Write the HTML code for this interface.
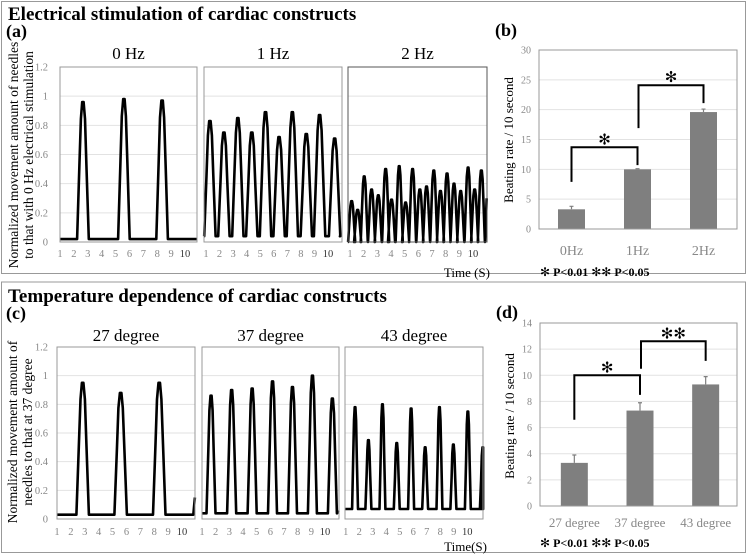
<!DOCTYPE html>
<html><head><meta charset="utf-8"><style>
html,body{margin:0;padding:0;background:#fff}
svg{display:block}
svg text{font-family:"Liberation Serif",serif}
</style></head><body>
<svg id="fig" width="747" height="554" viewBox="0 0 747 554">
<rect x="1.5" y="1.5" width="744" height="272" fill="none" stroke="#999"/>
<rect x="1.5" y="282" width="744" height="270.5" fill="none" stroke="#999"/>
<text x="8" y="20" font-size="19" font-weight="bold">Electrical stimulation  of cardiac constructs</text>
<text x="6" y="37" font-size="18" font-weight="bold">(a)</text>
<text x="495" y="36" font-size="18" font-weight="bold">(b)</text>
<text x="8" y="302" font-size="19" font-weight="bold">Temperature  dependence  of cardiac constructs</text>
<text x="6" y="319" font-size="18" font-weight="bold">(c)</text>
<text x="496" y="318" font-size="18" font-weight="bold">(d)</text>
<text transform="translate(18,155) rotate(-90)" text-anchor="middle" font-size="13.5">Normalized movement amount of needles</text>
<text transform="translate(33,155) rotate(-90)" text-anchor="middle" font-size="13.5">to that with 0 Hz electrical stimulation</text>
<text transform="translate(17,432) rotate(-90)" text-anchor="middle" font-size="13.5">Normalized movement amount of</text>
<text transform="translate(32,432) rotate(-90)" text-anchor="middle" font-size="13.5">needles to that at 37 degree</text>
<text x="490" y="277" text-anchor="end" font-size="13">Time (S)</text>
<text x="487" y="551" text-anchor="end" font-size="13">Time(S)</text>
<text transform="translate(513,140) rotate(-90)" text-anchor="middle" font-size="13">Beating rate / 10 second</text>
<text transform="translate(514,416) rotate(-90)" text-anchor="middle" font-size="13">Beating rate / 10 second</text>
<text x="540" y="276" font-size="12" font-weight="bold"><tspan font-size="12" font-weight="normal">✻</tspan> P&lt;0.01   <tspan font-size="12" font-weight="normal">✻✻</tspan> P&lt;0.05</text>
<text x="540" y="547" font-size="12" font-weight="bold"><tspan font-size="12" font-weight="normal">✻</tspan> P&lt;0.01   <tspan font-size="12" font-weight="normal">✻✻</tspan> P&lt;0.05</text>
</svg>
<script>
// ---- trace data (peak times in s, peak heights normalized) ----
const a1Times=[2.65,5.6,8.35];
const a1Heights=[0.96,0.98,0.97];
const a2Times=[1.29,2.32,3.35,4.38,5.39,6.39,7.37,8.4,9.38,10.49];
const a2Heights=[0.83,0.75,0.85,0.75,0.89,0.72,0.89,0.74,0.87,0.71];
const a3Times=[1.12,1.56,2.04,2.58,3.07,3.61,4.04,4.6,5.07,5.58,6.11,6.6,7.13,7.62,8.1,8.61,9.1,9.64,10.12,10.61];
const a3Heights=[0.28,0.22,0.45,0.36,0.32,0.5,0.29,0.52,0.27,0.5,0.36,0.38,0.49,0.35,0.47,0.4,0.35,0.51,0.36,0.49];
const c1Times=[2.85,5.58,8.36];
const c1Heights=[0.95,0.88,0.95];
const c2Times=[1.66,3.17,4.67,6.16,7.62,9.08,10.54];
const c2Heights=[0.86,0.9,0.91,0.96,0.92,1.0,0.84];
const c3Times=[1.69,2.68,3.72,4.78,5.84,6.88,7.94,8.97,10.04,11.15];
const c3Heights=[0.78,0.55,0.8,0.53,0.77,0.5,0.78,0.52,0.75,0.5];
const xTickLabels=["1","2","3","4","5","6","7","8","9","10"];
const yTickLabels=["0","0.2","0.4","0.6","0.8","1","1.2"];
// ---- bar data ----
const bCategories=["0Hz","1Hz","2Hz"];
const bValues=[3.3,10,19.6];
const bErrors=[0.5,0.1,0.5];
const bTicks=[0,5,10,15,20,25,30];
const dCategories=["27 degree","37 degree","43 degree"];
const dValues=[3.3,7.3,9.3];
const dErrors=[0.6,0.6,0.6];
const dTicks=[0,2,4,6,8,10,12,14];

const NS="http://www.w3.org/2000/svg";
const svg=document.getElementById('fig');
const FF='"Liberation Serif", serif';
function mk(tag,attrs,parent){const e=document.createElementNS(NS,tag);for(const k in attrs)e.setAttribute(k,attrs[k]);if(tag==='text')e.setAttribute('font-family',FF);(parent||svg).appendChild(e);return e;}

function tracePanel(p){
  const g=mk('g',{});
  
  
  const xs=t=>p.xa+(t-1)*(p.xb-p.xa)/9;
  const ys=v=>p.y0+(p.ytop-p.y0)*v/1.2;
  for(let i=1;i<=6;i++){
    const gl=mk('line',{x1:p.x0,x2:p.x1,y1:ys(i*0.2),y2:ys(i*0.2),stroke:'#e2e2e2','stroke-width':1},g);
    
    
  }
  const pts=[];
  const w=p.w;
  pts.push([p.t0,p.base]);
  p.times.forEach((tp,i)=>{
    const h=p.heights[i];
    pts.push([tp-w,p.base],[tp-0.6*w,0.55*h],[tp-0.35*w,0.88*h],[tp-0.12*w,h],[tp+0.12*w,h],[tp+0.35*w,0.88*h],[tp+0.6*w,0.55*h],[tp+w,p.base]);
  });
  pts.push([p.t1-0.12,p.base],[p.t1,p.endV]);
  let d='';
  pts.forEach((q,i)=>{
    const t=Math.max(p.t0,Math.min(p.t1,q[0]));
    d+=(i?'L':'M')+xs(t).toFixed(1)+','+ys(q[1]).toFixed(1);
  });
  const path=mk('path',{d:d,fill:'none',stroke:'#000','stroke-width':2.6,'stroke-linejoin':'round'},g);
  
  
  const fr=mk('rect',{x:p.x0,y:p.ytop,width:p.x1-p.x0,height:p.y0-p.ytop,fill:'none',stroke:p.frame||'#999','stroke-width':1},g);
  
  
  xTickLabels.forEach((lab,i)=>{
    const t=mk('text',{x:xs(i+1),y:p.tickY,'text-anchor':'middle','font-size':10.5,fill:i==9?'#333':'#888'},g);
    t.textContent=lab;
    
    
  });
  if(p.yAxis){
    yTickLabels.forEach((lab,i)=>{
      const t=mk('text',{x:48,y:ys(i*0.2)+3.5,'text-anchor':'end','font-size':10.5,fill:'#888'},g);
      t.textContent=lab;
      
      
    });
  }
  const tt=mk('text',{x:(p.x0+p.x1)/2,y:p.titleY,'text-anchor':'middle','font-size':17},g);
  tt.textContent=p.title;
  
  
}
tracePanel({name:'trace-0hz',x0:60,x1:197,xa:60,xb:185,t0:1,t1:10.86,y0:242,ytop:67,times:a1Times,heights:a1Heights,w:0.42,base:0.02,endV:0.02,tickY:257,titleY:59,title:'0 Hz',yAxis:true});
tracePanel({name:'trace-1hz',x0:204,x1:342,xa:206,xb:328,t0:0.85,t1:11.0,y0:242,ytop:67,times:a2Times,heights:a2Heights,w:0.42,base:0.04,endV:0.05,tickY:257,titleY:59,title:'1 Hz'});
tracePanel({name:'trace-2hz',x0:348,x1:487,xa:350,xb:473,t0:0.85,t1:11.0,y0:242,ytop:67,times:a3Times,heights:a3Heights,w:0.26,base:0.0,endV:0.3,tickY:257,titleY:59,title:'2 Hz',frame:'#555'});
tracePanel({name:'trace-27deg',x0:57,x1:195,xa:57,xb:182,t0:1,t1:10.93,y0:519,ytop:347,times:c1Times,heights:c1Heights,w:0.45,base:0.03,endV:0.15,tickY:535,titleY:341,title:'27 degree',yAxis:true});
tracePanel({name:'trace-37deg',x0:202,x1:339,xa:202,xb:325,t0:1,t1:11.0,y0:519,ytop:347,times:c2Times,heights:c2Heights,w:0.33,base:0.04,endV:0.06,tickY:535,titleY:341,title:'37 degree'});
tracePanel({name:'trace-43deg',x0:345,x1:483,xa:345.7,xb:467.3,t0:0.95,t1:11.17,y0:519,ytop:347,times:c3Times,heights:c3Heights,w:0.22,base:0.07,endV:0.5,tickY:535,titleY:341,title:'43 degree'});

function barPanel(p){
  const g=mk('g',{});
  
  
  const ymax=p.ticks[p.ticks.length-1];
  const ys=v=>p.y0+(p.ytop-p.y0)*v/ymax;
  const bw=(p.x1-p.x0)/p.cats.length;
  const xc=i=>p.x0+bw*(i+0.5)+p.shift;
  p.ticks.forEach(v=>{
    if(v>0&&v<ymax){
      const gl=mk('line',{x1:p.x0,x2:p.x1,y1:ys(v),y2:ys(v),stroke:'#e2e2e2'},g);
      
      
    }
    const t=mk('text',{x:p.x0-8,y:ys(v)+3.5,'text-anchor':'end','font-size':10,fill:'#888'},g);
    t.textContent=v;
    
    
  });
  p.vals.forEach((v,i)=>{
    const r=mk('rect',{x:xc(i)-13.5,y:ys(v),width:27,height:p.y0-ys(v),fill:'#7f7f7f'},g);
    
    
    const e=mk('path',{d:`M${xc(i)},${ys(v)}V${ys(v+p.errs[i])}M${xc(i)-2},${ys(v+p.errs[i])}H${xc(i)+2}`,stroke:'#7f7f7f','stroke-width':1.2,fill:'none'},g);
    
    
    const t=mk('text',{x:xc(i),y:p.labelY,'text-anchor':'middle','font-size':p.labelSize,fill:'#888'},g);
    t.textContent=p.cats[i];
    
    
  });
  const fr=mk('rect',{x:p.x0,y:p.ytop,width:p.x1-p.x0,height:p.y0-p.ytop,fill:'none',stroke:'#999'},g);
  
  
  p.brackets.forEach(b=>{
    const xa=xc(b.a)+b.da, xb=xc(b.b)+b.db;
    const br=mk('path',{d:`M${xa},${ys(b.la)}V${ys(b.top)}H${xb}V${ys(b.lb)}`,stroke:'#000','stroke-width':2,fill:'none'},g);
    
    
    const s=mk('text',{x:(xa+xb)/2,y:ys(b.top)-3,'text-anchor':'middle','font-size':15},g);
    s.textContent=b.star;
    
    
  });
}
barPanel({name:'bar-chart-b',x0:539,x1:737,y0:229,ytop:50,ticks:bTicks,cats:bCategories,vals:bValues,errs:bErrors,shift:-0.5,labelY:255,labelSize:14,
  brackets:[{a:0,b:1,da:0,db:0,top:13.7,la:7.9,lb:10.7,star:'✻'},{a:1,b:2,da:1,db:0,top:24.1,la:16.9,lb:21.1,star:'✻'}]});
barPanel({name:'bar-chart-d',x0:540,x1:737,y0:506,ytop:323,ticks:dTicks,cats:dCategories,vals:dValues,errs:dErrors,shift:1.5,labelY:527,labelSize:13,
  brackets:[{a:0,b:1,da:0,db:0,top:10,la:6.6,lb:8.5,star:'✻'},{a:1,b:2,da:1,db:0,top:12.6,la:10.5,lb:11.1,star:'✻✻'}]});
</script>
</body></html>
